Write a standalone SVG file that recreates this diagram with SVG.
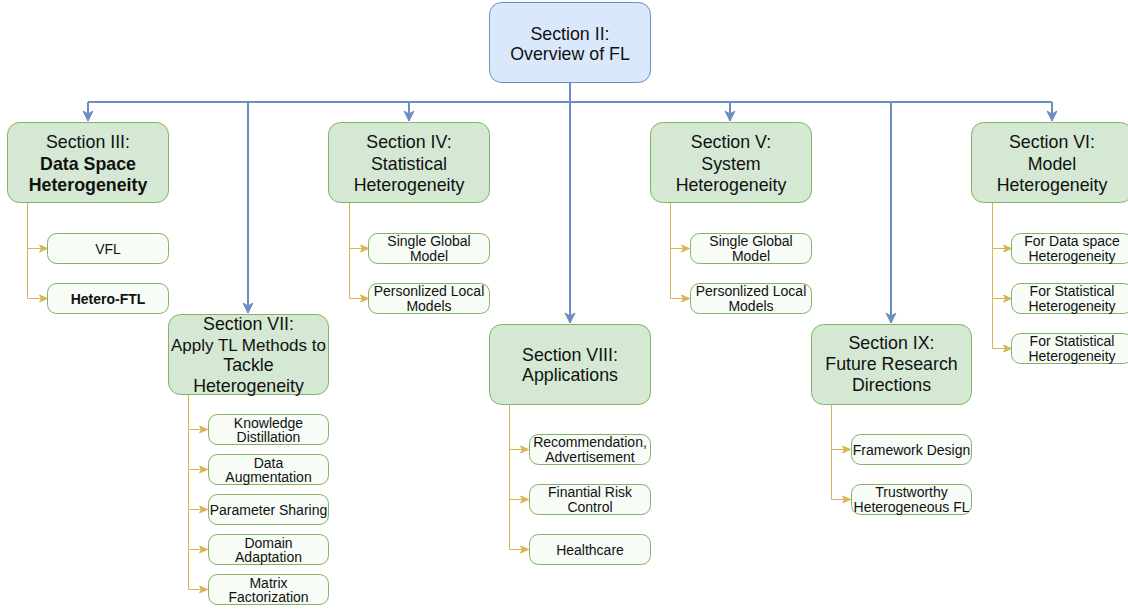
<svg xmlns="http://www.w3.org/2000/svg" width="1128" height="611" viewBox="0 0 1128 611">
<defs>
<style>
.sec{fill:#d5e8d4;stroke:#82b366;stroke-width:1}
.top{fill:#dae8fc;stroke:#6c8ebf;stroke-width:1}
.ch{fill:#f7fcf6;stroke:#82b366;stroke-width:1}
.t{font-family:"Liberation Sans",Arial,sans-serif;font-size:17.8px;fill:#111;text-anchor:middle}
.b{font-weight:bold}
.c{font-family:"Liberation Sans",Arial,sans-serif;font-size:14px;fill:#111;text-anchor:middle}
.bl{fill:none;stroke:#6c8ebf;stroke-width:2}
.yl{fill:none;stroke:#d6b656;stroke-width:1}
</style>
<marker id="ab" markerUnits="userSpaceOnUse" markerWidth="12" markerHeight="12" viewBox="0 0 12 12" refX="11" refY="6" orient="auto">
<path d="M1,1 L11,6 L1,11 L4,6 z" fill="#6c8ebf" stroke="#6c8ebf" stroke-width="1"/>
</marker>
<marker id="ay" markerUnits="userSpaceOnUse" markerWidth="10" markerHeight="10" viewBox="0 0 10 10" refX="9" refY="5" orient="auto">
<path d="M1,1.5 L9,5 L1,8.5 L3,5 z" fill="#d6b656" stroke="#d6b656" stroke-width="1"/>
</marker>
</defs>
<rect width="1128" height="611" fill="#ffffff"/>

<g id="connectors">
<path class="bl" d="M570,82 V102"/>
<path class="bl" d="M88,102 H1052"/>
<path class="bl" d="M88,102 V121" marker-end="url(#ab)"/>
<path class="bl" d="M248,102 V313" marker-end="url(#ab)"/>
<path class="bl" d="M409,102 V121" marker-end="url(#ab)"/>
<path class="bl" d="M570,102 V323" marker-end="url(#ab)"/>
<path class="bl" d="M730,102 V121" marker-end="url(#ab)"/>
<path class="bl" d="M891,102 V323" marker-end="url(#ab)"/>
<path class="bl" d="M1052,102 V121" marker-end="url(#ab)"/>

<path class="yl" d="M27.5,203 V248.5 H47.5" marker-end="url(#ay)"/>
<path class="yl" d="M27.5,248 V298.5 H47.5" marker-end="url(#ay)"/>

<path class="yl" d="M349.5,203 V248.5 H368.5" marker-end="url(#ay)"/>
<path class="yl" d="M349.5,248 V298.5 H368.5" marker-end="url(#ay)"/>

<path class="yl" d="M670.5,203 V248.5 H689.5" marker-end="url(#ay)"/>
<path class="yl" d="M670.5,248 V298.5 H689.5" marker-end="url(#ay)"/>

<path class="yl" d="M992.5,203 V248.5 H1011.5" marker-end="url(#ay)"/>
<path class="yl" d="M992.5,248 V298.5 H1011.5" marker-end="url(#ay)"/>
<path class="yl" d="M992.5,298 V348.5 H1011.5" marker-end="url(#ay)"/>

<path class="yl" d="M188.5,394 V429.5 H207.5" marker-end="url(#ay)"/>
<path class="yl" d="M188.5,429 V469.5 H207.5" marker-end="url(#ay)"/>
<path class="yl" d="M188.5,469 V509.5 H207.5" marker-end="url(#ay)"/>
<path class="yl" d="M188.5,509 V549.5 H207.5" marker-end="url(#ay)"/>
<path class="yl" d="M188.5,549 V589.5 H207.5" marker-end="url(#ay)"/>

<path class="yl" d="M509.5,404 V449.5 H528.5" marker-end="url(#ay)"/>
<path class="yl" d="M509.5,449 V499.5 H528.5" marker-end="url(#ay)"/>
<path class="yl" d="M509.5,499 V549.5 H528.5" marker-end="url(#ay)"/>

<path class="yl" d="M831.5,404 V449.5 H850.5" marker-end="url(#ay)"/>
<path class="yl" d="M831.5,449 V499.5 H850.5" marker-end="url(#ay)"/>
</g>

<g id="sec2">
<rect class="top" x="489.5" y="2.5" width="161" height="80" rx="12"/>
<text class="t" x="570" y="39.5">Section II:</text>
<text class="t" x="570" y="60">Overview of FL</text>
</g>

<g id="sec3">
<rect class="sec" x="7.5" y="122.5" width="161" height="80" rx="12"/>
<text class="t" x="88" y="148">Section III:</text>
<text class="t b" x="88" y="169.5">Data Space</text>
<text class="t b" x="88" y="191">Heterogeneity</text>
</g>
<g id="vfl">
<rect class="ch" x="47.5" y="233.5" width="121" height="30" rx="9"/>
<text class="c" x="108" y="253.5">VFL</text>
</g>
<g id="heteroftl">
<rect class="ch" x="47.5" y="283.5" width="121" height="30" rx="9"/>
<text class="c b" x="108" y="303.5">Hetero-FTL</text>
</g>

<g id="sec4">
<rect class="sec" x="328.5" y="122.5" width="161" height="80" rx="12"/>
<text class="t" x="409" y="148">Section IV:</text>
<text class="t" x="409" y="169.5">Statistical</text>
<text class="t" x="409" y="191">Heterogeneity</text>
</g>
<g id="s4c1">
<rect class="ch" x="368.5" y="233.5" width="121" height="30" rx="9"/>
<text class="c" x="429" y="246">Single Global</text>
<text class="c" x="429" y="261">Model</text>
</g>
<g id="s4c2">
<rect class="ch" x="368.5" y="283.5" width="121" height="30" rx="9"/>
<text class="c" x="429" y="296">Personlized Local</text>
<text class="c" x="429" y="311">Models</text>
</g>

<g id="sec5">
<rect class="sec" x="650.5" y="122.5" width="161" height="80" rx="12"/>
<text class="t" x="731" y="148">Section V:</text>
<text class="t" x="731" y="169.5">System</text>
<text class="t" x="731" y="191">Heterogeneity</text>
</g>
<g id="s5c1">
<rect class="ch" x="690.5" y="233.5" width="121" height="30" rx="9"/>
<text class="c" x="751" y="246">Single Global</text>
<text class="c" x="751" y="261">Model</text>
</g>
<g id="s5c2">
<rect class="ch" x="690.5" y="283.5" width="121" height="30" rx="9"/>
<text class="c" x="751" y="296">Personlized Local</text>
<text class="c" x="751" y="311">Models</text>
</g>

<g id="sec6">
<rect class="sec" x="971.5" y="122.5" width="161" height="80" rx="12"/>
<text class="t" x="1052" y="148">Section VI:</text>
<text class="t" x="1052" y="169.5">Model</text>
<text class="t" x="1052" y="191">Heterogeneity</text>
</g>
<g id="s6c1">
<rect class="ch" x="1011.5" y="233.5" width="121" height="30" rx="9"/>
<text class="c" x="1072" y="246">For Data space</text>
<text class="c" x="1072" y="261">Heterogeneity</text>
</g>
<g id="s6c2">
<rect class="ch" x="1011.5" y="283.5" width="121" height="30" rx="9"/>
<text class="c" x="1072" y="296">For Statistical</text>
<text class="c" x="1072" y="311">Heterogeneity</text>
</g>
<g id="s6c3">
<rect class="ch" x="1011.5" y="333.5" width="121" height="30" rx="9"/>
<text class="c" x="1072" y="346">For Statistical</text>
<text class="c" x="1072" y="361">Heterogeneity</text>
</g>

<g id="sec7">
<rect class="sec" x="168.5" y="314.5" width="160" height="80" rx="12"/>
<text class="t" x="248.5" y="330">Section VII:</text>
<text class="t" x="248.5" y="351" style="font-size:17px">Apply TL Methods to</text>
<text class="t" x="248.5" y="371">Tackle</text>
<text class="t" x="248.5" y="392">Heterogeneity</text>
</g>
<g id="s7c1">
<rect class="ch" x="208.5" y="414.5" width="120" height="30" rx="9"/>
<text class="c" x="268.5" y="427.5">Knowledge</text>
<text class="c" x="268.5" y="442">Distillation</text>
</g>
<g id="s7c2">
<rect class="ch" x="208.5" y="454.5" width="120" height="30" rx="9"/>
<text class="c" x="268.5" y="467.5">Data</text>
<text class="c" x="268.5" y="482">Augmentation</text>
</g>
<g id="s7c3">
<rect class="ch" x="208.5" y="494.5" width="120" height="30" rx="9"/>
<text class="c" x="268.5" y="514.5">Parameter Sharing</text>
</g>
<g id="s7c4">
<rect class="ch" x="208.5" y="534.5" width="120" height="30" rx="9"/>
<text class="c" x="268.5" y="547.5">Domain</text>
<text class="c" x="268.5" y="562">Adaptation</text>
</g>
<g id="s7c5">
<rect class="ch" x="208.5" y="574.5" width="120" height="30" rx="9"/>
<text class="c" x="268.5" y="587.5">Matrix</text>
<text class="c" x="268.5" y="602">Factorization</text>
</g>

<g id="sec8">
<rect class="sec" x="489.5" y="324.5" width="161" height="80" rx="12"/>
<text class="t" x="570" y="360.5">Section VIII:</text>
<text class="t" x="570" y="381">Applications</text>
</g>
<g id="s8c1">
<rect class="ch" x="529.5" y="434.5" width="121" height="30" rx="9"/>
<text class="c" x="590" y="447">Recommendation,</text>
<text class="c" x="590" y="462">Advertisement</text>
</g>
<g id="s8c2">
<rect class="ch" x="529.5" y="484.5" width="121" height="30" rx="9"/>
<text class="c" x="590" y="497">Finantial Risk</text>
<text class="c" x="590" y="512">Control</text>
</g>
<g id="s8c3">
<rect class="ch" x="529.5" y="534.5" width="121" height="30" rx="9"/>
<text class="c" x="590" y="554.5">Healthcare</text>
</g>

<g id="sec9">
<rect class="sec" x="811.5" y="324.5" width="160" height="80" rx="12"/>
<text class="t" x="891.5" y="349">Section IX:</text>
<text class="t" x="891.5" y="370">Future Research</text>
<text class="t" x="891.5" y="391">Directions</text>
</g>
<g id="s9c1">
<rect class="ch" x="851.5" y="434.5" width="120" height="30" rx="9"/>
<text class="c" x="911.5" y="454.5">Framework Design</text>
</g>
<g id="s9c2">
<rect class="ch" x="851.5" y="484.5" width="120" height="30" rx="9"/>
<text class="c" x="911.5" y="497">Trustworthy</text>
<text class="c" x="911.5" y="512">Heterogeneous FL</text>
</g>
</svg>
